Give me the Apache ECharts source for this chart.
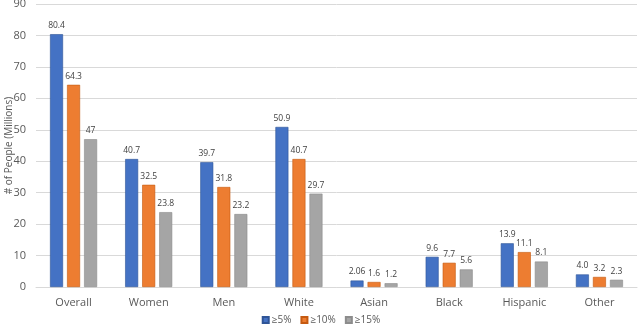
<!DOCTYPE html>
<html><head><meta charset="utf-8">
<script src="https://cdn.jsdelivr.net/npm/echarts@6/dist/echarts.min.js"></script>
<style>html,body{margin:0;padding:0;background:#fff}#c{width:642px;height:326px}</style>
</head><body><div id="c"></div>
<script>
const categories = ['Overall', 'Women', 'Men', 'White', 'Asian', 'Black', 'Hispanic', 'Other'];
const seriesNames = ['≥5%', '≥10%', '≥15%'];
const values5 = [80.4, 40.7, 39.7, 50.9, 2.06, 9.6, 13.9, 4.0];
const values10 = [64.3, 32.5, 31.8, 40.7, 1.6, 7.7, 11.1, 3.2];
const values15 = [47, 23.8, 23.2, 29.7, 1.2, 5.6, 8.1, 2.3];
const labels5 = ['80.4', '40.7', '39.7', '50.9', '2.06', '9.6', '13.9', '4.0'];
const labels10 = ['64.3', '32.5', '31.8', '40.7', '1.6', '7.7', '11.1', '3.2'];
const labels15 = ['47', '23.8', '23.2', '29.7', '1.2', '5.6', '8.1', '2.3'];
const yTicks = [0, 10, 20, 30, 40, 50, 60, 70, 80, 90];

const colors = ['#4472C4', '#ED7D31', '#A5A5A5'];
const borders = ['#2F5597', '#C55A11', '#8C8C8C'];
const font = '"Open Sans", "Liberation Sans", sans-serif';

function mk(i, vals, labs) {
  return {
    name: seriesNames[i], type: 'bar', data: vals,
    barWidth: 13, barGap: '31%',
    itemStyle: { color: colors[i], borderColor: borders[i], borderWidth: 0.6 },
    label: { show: true, position: 'top', distance: 4, fontSize: 8.5, color: '#404040', fontFamily: font,
      formatter: p => labs[p.dataIndex] }
  };
}

const chart = echarts.init(document.getElementById('c'));
chart.setOption({
  animation: false,
  color: colors,
  grid: { left: 36, right: 5, top: 4, bottom: 39, containLabel: false, outerBoundsMode: 'none' },
  legend: {
    top: 315, left: 'center', padding: 0, itemWidth: 6, itemHeight: 6, itemGap: 9,
    icon: 'rect', textStyle: { fontSize: 10, color: '#595959', fontFamily: font, padding: [0, 0, 0, -2] },
    data: seriesNames
  },
  xAxis: {
    type: 'category', data: categories,
    axisLine: { lineStyle: { color: '#D9D9D9' } }, axisTick: { show: false },
    axisLabel: { fontSize: 11, color: '#595959', fontFamily: font, margin: 10 }
  },
  yAxis: {
    type: 'value', min: yTicks[0], max: yTicks[yTicks.length - 1], interval: 10,
    name: '# of People (Millions)', nameLocation: 'middle', nameGap: 22, nameMoveOverlap: false,
    nameTextStyle: { fontSize: 10, color: '#595959', fontFamily: font },
    axisLine: { show: false }, axisTick: { show: false },
    axisLabel: { fontSize: 11, color: '#595959', fontFamily: font, margin: 10 },
    splitLine: { lineStyle: { color: '#D9D9D9' } }
  },
  series: [mk(0, values5, labels5), mk(1, values10, labels10), mk(2, values15, labels15)]
});
</script></body></html>
